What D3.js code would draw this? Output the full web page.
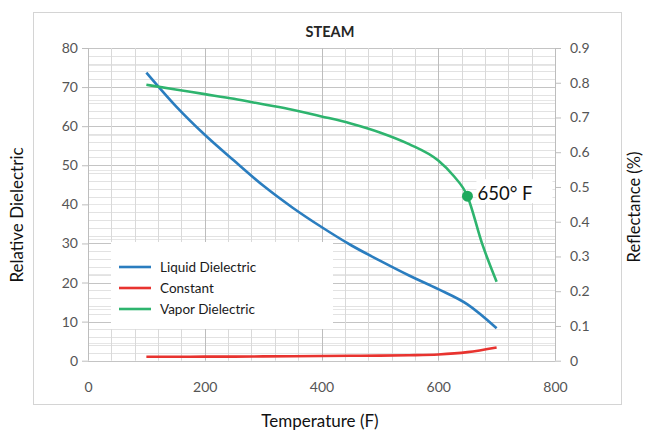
<!DOCTYPE html>
<html><head><meta charset="utf-8">
<script src="https://cdn.jsdelivr.net/npm/d3@7/dist/d3.min.js"></script>
<style>body{margin:0;background:#fff}svg{display:block}</style>
</head><body>
<svg id="c" width="645" height="432"></svg>
<script>
const temps = [100,150,200,250,300,350,400,450,500,550,600,650,700];
const liquid = [73.7,65.2,57.8,51.2,44.8,39.2,34.2,29.6,25.6,21.8,18.3,14.4,8.3];
const constant = [1.0,1.0,1.05,1.05,1.1,1.15,1.2,1.25,1.3,1.4,1.6,2.2,3.4];
const vaporT = [100,150,200,250,300,350,400,450,500,550,600,625,650,675,700];
const vapor = [70.6,69.4,68.2,67.0,65.6,64.2,62.5,60.7,58.4,55.4,51.2,47.5,42.1,30.0,20.2];
const xTicks = [0,200,400,600,800];
const yLeftTicks = [0,10,20,30,40,50,60,70,80];
const yRightTicks = [0,0.1,0.2,0.3,0.4,0.5,0.6,0.7,0.8,0.9];
const seriesNames = ["Liquid Dielectric","Constant","Vapor Dielectric"];
const colors = ["#2a7dbf","#e8332f","#2eb46e"];
const markerT = 650, markerV = 42.1, markerLabel = "650° F";

const svg = d3.select("#c");
const font = "Lato, 'Open Sans', sans-serif";
const x = d3.scaleLinear().domain([0,800]).range([88,555]);
const yL = d3.scaleLinear().domain([0,80]).range([360.7,48]);
const yR = d3.scaleLinear().domain([0,0.9]).range([360.7,48]);

// frame
svg.append("rect").attr("x",33.5).attr("y",12.5).attr("width",588).attr("height",392)
  .attr("fill","#fff").attr("stroke","#d4d4d4");

const g = svg.append("g");
g.selectAll(".hm").data(d3.range(0,81,2)).join("line")
  .attr("x1",x(0)).attr("x2",x(800)).attr("y1",d=>Math.round(yL(d))+0.5).attr("y2",d=>Math.round(yL(d))+0.5)
  .attr("stroke",d=>d%10===0?"#c4c4c4":"#e2e2e2");
g.selectAll(".hr").data(d3.range(0.05,0.9,0.1)).join("line")
  .attr("x1",x(0)).attr("x2",x(800)).attr("y1",d=>Math.round(yR(d))+0.5).attr("y2",d=>Math.round(yR(d))+0.5)
  .attr("stroke","#e6e6e6");
g.selectAll(".v").data(d3.range(0,801,40)).join("line")
  .attr("y1",yL(80)).attr("y2",yL(0)).attr("x1",d=>Math.round(x(d))+0.5).attr("x2",d=>Math.round(x(d))+0.5)
  .attr("stroke",d=>d%200===0?"#bdbdbd":"#d9d9d9");

const axL = svg.append("g").attr("transform",`translate(${x(0)},0)`)
  .call(d3.axisLeft(yL).tickValues(yLeftTicks).tickSize(6).tickPadding(4).tickFormat(d3.format("d")));
const axR = svg.append("g").attr("transform",`translate(${x(800)},0)`)
  .call(d3.axisRight(yR).tickValues(yRightTicks).tickSize(6).tickPadding(9).tickFormat(d=>d===0?"0":d3.format(".1f")(d)));
const axB = svg.append("g").attr("transform",`translate(0,${yL(0)})`)
  .call(d3.axisBottom(x).tickValues(xTicks).tickSize(0).tickPadding(21).tickFormat(d3.format("d")));
[axL,axR,axB].forEach(a=>{
  a.select(".domain").remove();
  a.selectAll(".tick line").attr("stroke","#bdbdbd");
  a.selectAll("text").attr("fill","#555").style("font-family",font).style("font-size","14px");
});

const line = (xs,ys)=>d3.line().curve(d3.curveMonotoneX).x((d,i)=>x(xs[i])).y(d=>yL(d))(ys);
svg.append("path").attr("d",line(temps,constant)).attr("fill","none").attr("stroke",colors[1]).attr("stroke-width",2.6);
svg.append("path").attr("d",line(temps,liquid)).attr("fill","none").attr("stroke",colors[0]).attr("stroke-width",2.6);
svg.append("path").attr("d",line(vaporT,vapor)).attr("fill","none").attr("stroke",colors[2]).attr("stroke-width",2.6);

svg.append("circle").attr("cx",x(markerT)).attr("cy",yL(markerV)).attr("r",5.5).attr("fill","#1faa5e");
svg.append("rect").attr("x",x(markerT)+9).attr("y",yL(markerV)-17).attr("width",76).attr("height",24).attr("fill","#fff");
svg.append("text").attr("x",x(markerT)+10).attr("y",yL(markerV)+4).text(markerLabel)
  .attr("fill","#111").style("font-family",font).style("font-size","18.5px");

svg.append("rect").attr("x",111).attr("y",242).attr("width",222).attr("height",87).attr("fill","#fff");
seriesNames.forEach((n,i)=>{
  const yy = 267 + i*21;
  svg.append("line").attr("x1",119).attr("x2",151).attr("y1",yy).attr("y2",yy).attr("stroke",colors[i]).attr("stroke-width",2.6);
  svg.append("text").attr("x",160).attr("y",yy+4.5).text(n).attr("fill","#1a1a1a")
    .style("font-family",font).style("font-size","13.5px");
});

svg.append("text").attr("x",330).attr("y",37).attr("text-anchor","middle").text("STEAM")
  .attr("fill","#262626").style("font-family",font).style("font-weight","bold").style("font-size","14.5px");
svg.append("text").attr("transform","translate(23,215) rotate(-90)").attr("text-anchor","middle").text("Relative Dielectric")
  .attr("fill","#111").style("font-family",font).style("font-size","17px");
svg.append("text").attr("transform","translate(640,207) rotate(-90)").attr("text-anchor","middle").text("Reflectance (%)")
  .attr("fill","#111").style("font-family",font).style("font-size","16.5px");
svg.append("text").attr("x",320).attr("y",427).attr("text-anchor","middle").text("Temperature (F)")
  .attr("fill","#111").style("font-family",font).style("font-size","17px");
</script>
</body></html>
